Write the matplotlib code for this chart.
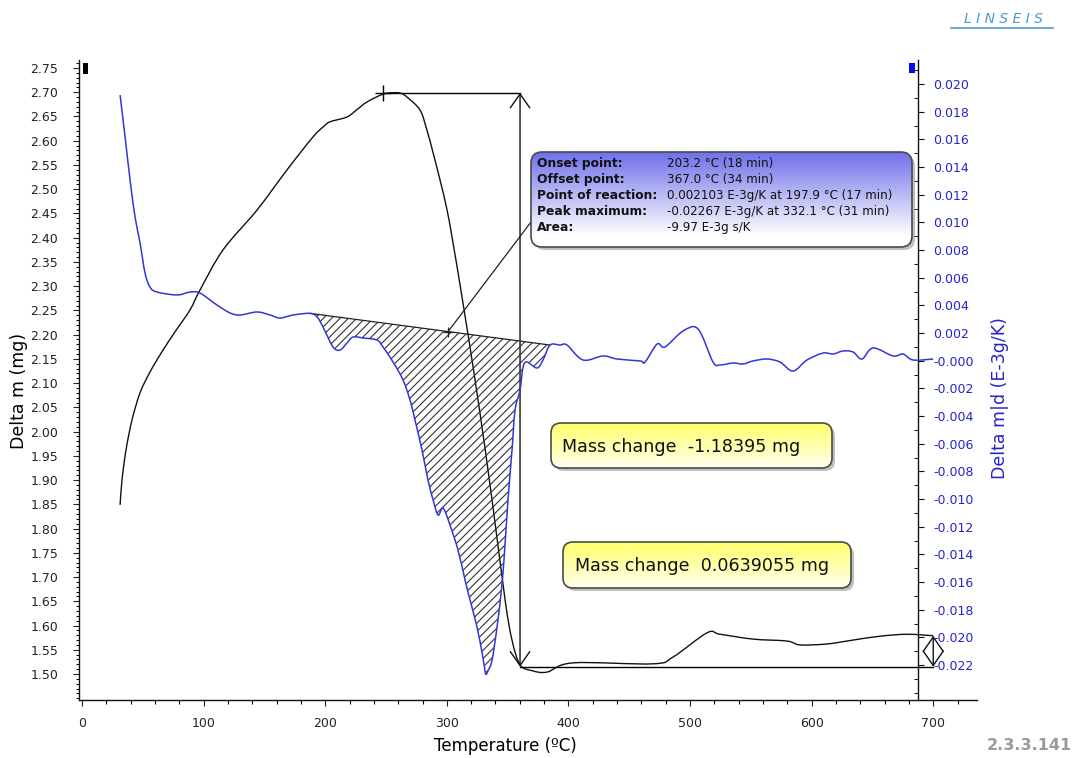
import numpy as np
import matplotlib
matplotlib.use("Agg")
import matplotlib.pyplot as plt
from matplotlib.patches import FancyBboxPatch, Rectangle, ConnectionPatch, PathPatch
from matplotlib.path import Path
from matplotlib.ticker import MultipleLocator, FixedLocator, FuncFormatter

plt.rcParams["font.family"] = ["DejaVu Sans"]
plt.rcParams["hatch.linewidth"] = 0.8

# ---- TG signal: mass (mg) against temperature (°C)
tg_temp = [31.3, 32.9, 36.2, 41.1, 47.7, 55.9, 65.8, 76.5, 88.8, 97.0, 116.0,
           143.9, 168.6, 190.0, 199.0, 203.9, 217.9, 226.0, 234.4, 247.5, 255.8,
           262.0, 267.3, 278.0, 283.6, 288.7, 294.4, 300.2, 305.1, 313.3, 325.7,
           337.2, 347.9, 353.6, 360.2, 370.0, 382.4, 403.8, 469.6, 486.0, 514.0,
           524.7, 551.8, 579.8, 590.5, 612.7, 634.0, 656.3, 678.5, 700.0]
tg_mass = [1.849, 1.901, 1.963, 2.024, 2.080, 2.123, 2.165, 2.206, 2.251, 2.292, 2.375,
           2.457, 2.540, 2.608, 2.630, 2.639, 2.649, 2.664, 2.680, 2.696, 2.699,
           2.698, 2.690, 2.663, 2.622, 2.575, 2.519, 2.457, 2.389, 2.265, 2.065,
           1.859, 1.653, 1.570, 1.519, 1.507, 1.504, 1.523, 1.521, 1.535, 1.585,
           1.582, 1.572, 1.568, 1.560, 1.562, 1.570, 1.578, 1.582, 1.579]

# ---- DTG signal (E-3g/K) against temperature (°C)
dtg_temp = [31.3, 35.4, 39.5, 43.6, 47.7, 51.8, 55.9, 61.7, 78.1, 88.8, 97.0,
            111.0, 121.7, 129.9, 143.9, 154.6, 162.8, 173.5, 187.5, 193.3, 198.2,
            206.4, 212.2, 217.9, 222.9, 231.1, 242.6, 247.5, 255.8, 264.0, 269.7,
            273.8, 279.6, 284.5, 288.7, 292.8, 296.9, 302.6, 309.2, 315.0, 319.1,
            324.8, 329.0, 331.0, 332.1, 334.0, 337.2, 341.3, 344.6, 347.0, 350.3,
            353.6, 356.1, 360.2, 362.7, 366.0, 374.2, 379.1, 384.9, 393.1, 398.8,
            412.0, 428.5, 440.0, 458.9, 463.0, 472.9, 479.4, 494.2, 506.6, 518.9,
            524.7, 535.4, 543.6, 551.8, 563.3, 574.0, 584.7, 596.2, 609.4, 617.6,
            625.8, 634.0, 641.4, 650.5, 666.9, 675.2, 683.4, 700.0]
dtg_val = [0.01920, 0.01617, 0.01306, 0.01039, 0.00851, 0.00634, 0.00532, 0.00496,
           0.00475, 0.00496, 0.00489, 0.00402, 0.00345, 0.00330, 0.00352, 0.00330,
           0.00308, 0.00330, 0.00342, 0.00316, 0.00243, 0.00099, 0.00077, 0.00128,
           0.00171, 0.00164, 0.00149, 0.00099, -0.00010, -0.00140, -0.00284,
           -0.00429, -0.00646, -0.00863, -0.01007, -0.01116, -0.01065, -0.01188,
           -0.01369, -0.01586, -0.01730, -0.01925, -0.02113, -0.02220, -0.02267,
           -0.02240, -0.02164, -0.01925, -0.01680, -0.01441, -0.01007, -0.00646,
           -0.00357, -0.00212, -0.00046, -0.00010, -0.00053, 0.00005, 0.00113,
           0.00113, 0.00113, 0.00005, 0.00034, 0.00012, -0.00002, -0.00010,
           0.00120, 0.00099, 0.00214, 0.00229, -0.00010, -0.00031, -0.00017,
           -0.00024, -0.00002, 0.00012, -0.00010, -0.00075, 0.00005, 0.00055,
           0.00048, 0.00070, 0.00063, 0.00012, 0.00092, 0.00034, 0.00048,
           0.00005, 0.00012]

# ---- peak evaluation
baseline_temp = [187.5, 384.9]
baseline_val = [0.00342, 0.00113]
reaction_val = 0.002103
eval_labels = ["Onset point:", "Offset point:", "Point of reaction:",
               "Peak maximum:", "Area:"]
eval_values = ["203.2 \u00b0C (18 min)", "367.0 \u00b0C (34 min)",
               "0.002103 E-3g/K at 197.9 \u00b0C (17 min)",
               "-0.02267 E-3g/K at 332.1 \u00b0C (31 min)",
               "-9.97 E-3g s/K"]

# ---- mass steps
step1_start_temp = 247.5
step1_temp = 360.2
step1_top = 2.699
mass_change_1 = -1.18395
step2_temp = 700.0
mass_change_2 = 0.0639055

left_ticks = np.round(np.arange(1.50, 2.751, 0.05), 2)
right_ticks = np.round(np.arange(-0.022, 0.0201, 0.002), 3)


def smooth_path(x, y, close=False):
    """Catmull-Rom curve through the points, expressed as cubic Bezier codes."""
    p = np.column_stack([x, y]).astype(float)
    n = len(p)
    verts = [p[0]]
    codes = [Path.MOVETO]
    for i in range(n - 1):
        p0 = p[i - 1] if i > 0 else p[i]
        p1, p2 = p[i], p[i + 1]
        p3 = p[i + 2] if i + 2 < n else p[i + 1]
        verts += [p1 + (p2 - p0) / 6.0, p2 - (p3 - p1) / 6.0, p2]
        codes += [Path.CURVE4] * 3
    if close:
        verts.append(p[0])
        codes.append(Path.CLOSEPOLY)
    return Path(np.array(verts), codes)


W, H = 1076, 758
fig = plt.figure(figsize=(W / 100, H / 100), dpi=100)
ax = fig.add_axes([79 / W, 58 / H, 898 / W, 640 / H])
ax.set_xlim(-2.5, 736)
ax.set_ylim(1.4464, 2.7665)
ax2 = ax.twinx()
ax2.set_ylim(-0.02453, 0.021735)

blue = "#3434dc"
tick_blue = "#2424cc"

for s in ("top", "right"):
    ax.spines[s].set_visible(False)
for s in ("top", "left", "bottom"):
    ax2.spines[s].set_visible(False)
ax2.spines["right"].set_position(("data", 687.5))
for sp in (ax.spines["left"], ax.spines["bottom"], ax2.spines["right"]):
    sp.set_linewidth(1.0)
    sp.set_color("#111111")

ax.xaxis.set_major_locator(MultipleLocator(100))
ax.xaxis.set_minor_locator(MultipleLocator(20))
ax.yaxis.set_major_locator(FixedLocator(left_ticks))
ax.yaxis.set_minor_locator(MultipleLocator(0.01))
ax.yaxis.set_major_formatter(FuncFormatter(lambda v, p: f"{v:.2f}"))
ax2.yaxis.set_major_locator(FixedLocator(right_ticks))
ax2.yaxis.set_minor_locator(MultipleLocator(0.001))
ax2.yaxis.set_major_formatter(
    FuncFormatter(lambda v, p: "-0.000" if abs(v) < 1e-9 else f"{v:.3f}"))

ax.tick_params(axis="x", which="major", direction="out", length=4, width=0.8,
               pad=8, labelsize=9, colors="#222222")
ax.tick_params(axis="x", which="minor", direction="out", length=3, width=0.8)
ax.tick_params(axis="y", which="major", direction="out", length=4, width=0.8,
               pad=11, labelsize=9, colors="#222222")
ax.tick_params(axis="y", which="minor", direction="out", length=2, width=0.7)
ax2.tick_params(axis="y", which="major", direction="out", length=4, width=0.8,
                pad=7, labelsize=9, colors="#111111", labelcolor=tick_blue)
ax2.tick_params(axis="y", which="minor", direction="in", length=3, width=0.7,
                colors="#111111")

ax.set_xlabel("Temperature (\u00baC)", fontsize=12, va="center")
ax.xaxis.set_label_coords((505 - 79) / 898, (700 - 746) / 640)
ax.set_ylabel("Delta m (mg)", fontsize=12.5, va="center")
ax.yaxis.set_label_coords((19 - 79) / 898, (700 - 391) / 640)
ax2.set_ylabel("Delta m|d (E-3g/K)", fontsize=12.5, va="center", color=tick_blue,
               rotation=90)
ax2.yaxis.set_label_coords((1000 - 79) / 898, (700 - 398) / 640)

# hatched peak area: DTG curve between the baseline ends, closed along the baseline
dt = np.array(dtg_temp)
dv = np.array(dtg_val)
sel = (dt >= baseline_temp[0]) & (dt <= baseline_temp[1])
area_path = smooth_path(dt[sel], dv[sel], close=True)
ax2.add_patch(PathPatch(area_path, facecolor="none", edgecolor="#333333",
                        hatch="////", linewidth=0, zorder=1))
ax2.plot(baseline_temp, baseline_val, color="#222222", lw=0.9, zorder=2)

# curves
ax.add_patch(PathPatch(smooth_path(tg_temp, tg_mass), facecolor="none",
                       edgecolor="#111111", lw=1.0, zorder=3, clip_on=False))
ax2.add_patch(PathPatch(smooth_path(dtg_temp, dtg_val), facecolor="none",
                        edgecolor=blue, lw=1.1, zorder=3, clip_on=False))

# point of reaction on the baseline
reaction_temp = np.interp(reaction_val, baseline_val[::-1], baseline_temp[::-1])
ax2.plot([reaction_temp], [reaction_val], marker="+", ms=7, mew=0.9,
         color="#222222", zorder=4)

# mass step markers
step1_bottom = step1_top + mass_change_1
step2_top = step1_bottom + mass_change_2
ax.plot([step1_start_temp, step1_temp], [step1_top, step1_top], color="k", lw=1.0)
ax.plot([step1_start_temp], [step1_top], marker="+", ms=11, mew=1.0, color="k")
ax.plot([step1_temp, step2_temp], [step1_bottom, step1_bottom], color="k", lw=1.0,
        clip_on=False)
ax.annotate("", xy=(step1_temp, step1_bottom), xytext=(step1_temp, step1_top),
            arrowprops=dict(arrowstyle="<->,head_length=0.5,head_width=0.35",
                            color="#111111", lw=1.0, shrinkA=0, shrinkB=0,
                            mutation_scale=20))
ax.annotate("", xy=(step2_temp, step1_bottom), xytext=(step2_temp, step2_top),
            annotation_clip=False,
            arrowprops=dict(arrowstyle="<->,head_length=0.52,head_width=0.36",
                            color="#111111", lw=1.0, shrinkA=0, shrinkB=0,
                            mutation_scale=20))

# overlay in pixel units for the annotation panels
ov = fig.add_axes([0, 0, 1, 1], zorder=10)
ov.set_xlim(0, W)
ov.set_ylim(H, 0)
ov.axis("off")


def panel(x0, y0, x1, y1, top, bottom, fade, r):
    w, h = x1 - x0, y1 - y0
    style = f"round,pad=0,rounding_size={r}"
    ov.add_patch(FancyBboxPatch((x0 + 3, y0 + 3), w, h, boxstyle=style,
                                fc="#8c8c8c", ec="none", alpha=0.55, zorder=1))
    box = FancyBboxPatch((x0, y0), w, h, boxstyle=style, fc="none",
                         ec="#4a4a4a", lw=1.2, zorder=3)
    ov.add_patch(box)
    t = np.clip(np.linspace(0, 1, 200) / fade, 0, 1)[:, None]
    c0 = np.array(matplotlib.colors.to_rgb(top))
    c1 = np.array(matplotlib.colors.to_rgb(bottom))
    img = ov.imshow((c0 + (c1 - c0) * t)[:, None, :], extent=(x0, x1, y1, y0),
                    aspect="auto", interpolation="bilinear", zorder=2)
    img.set_clip_path(box)


panel(531, 152, 912, 247, "#7070ea", "#ffffff", 0.88, 11)
for i, (lab, val) in enumerate(zip(eval_labels, eval_values)):
    y = 163 + i * 16.2
    ov.text(537, y, lab, fontsize=8.8, fontweight="bold", color="#111111",
            va="center", ha="left", zorder=5)
    ov.text(667, y, val, fontsize=8.6, color="#111111", va="center", ha="left",
            zorder=5)

panel(551, 423, 832, 468, "#ffff6a", "#fffff0", 1.0, 10)
ov.text(562, 447, f"Mass change  {mass_change_1:.5f} mg", fontsize=12.6,
        color="#111111", va="center", ha="left", zorder=5)
panel(563, 542, 851, 588, "#ffff6a", "#fffff0", 1.0, 10)
ov.text(575, 566, f"Mass change  {mass_change_2:.7f} mg", fontsize=12.6,
        color="#111111", va="center", ha="left", zorder=5)

# leader from the point of reaction to the evaluation panel
ov.add_artist(ConnectionPatch(xyA=(reaction_temp, reaction_val), coordsA=ax2.transData,
                              xyB=(531, 222), coordsB=ov.transData,
                              color="#222222", lw=0.9, zorder=0))

# signal markers at the axis tops
ov.add_patch(Rectangle((83, 63), 5, 11, fc="#000000", ec="none"))
ov.add_patch(Rectangle((909, 63), 6, 10, fc="#0a0ae6", ec="none"))

# brand mark and version
ov.text(1003, 19, "L I N S E I S", fontsize=10, style="italic", color="#4a9ad4",
        ha="center", va="center")
ov.plot([951, 1053], [27.5, 27.5], color="#4a9ad4", lw=1.2)
ov.text(1029, 746, "2.3.3.141", fontsize=11.5, fontweight="bold", color="#9a9a9a",
        ha="center", va="center")

fig.savefig("out.png", dpi=100)
